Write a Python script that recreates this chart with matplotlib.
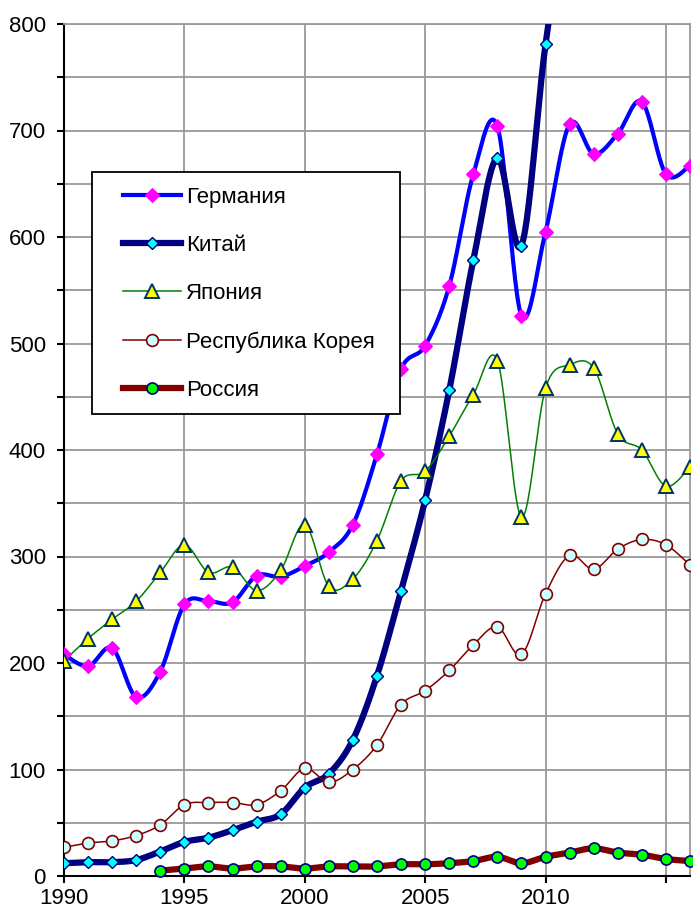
import numpy as np
import matplotlib
matplotlib.use('Agg')
import matplotlib.pyplot as plt
from matplotlib.lines import Line2D
from matplotlib.patches import Rectangle
from matplotlib.ticker import MultipleLocator

plt.rcParams['font.family'] = ['Liberation Sans', 'DejaVu Sans']

years = np.arange(1990, 2017)
years_ru = np.arange(1994, 2017)

germany = [208, 197, 214, 168, 192, 255, 258, 257, 282, 281, 291, 304, 330, 396, 476,
           498, 554, 659, 704, 526, 605, 706, 678, 697, 727, 659, 667]
china = [12, 13, 13, 15, 23, 32, 36, 43, 51, 58, 83, 96, 128, 188, 268,
         353, 456, 578, 674, 592, 781, 920, 1000, 1080, 1130, 1100, 1080]
japan = [202, 223, 241, 258, 285, 311, 285, 290, 268, 287, 330, 272, 279, 315, 371,
         380, 413, 452, 484, 337, 458, 480, 477, 415, 400, 366, 384]
korea = [27, 31, 33, 38, 48, 67, 69, 69, 67, 80, 101, 88, 100, 123, 161,
         174, 193, 217, 234, 208, 265, 301, 288, 307, 316, 311, 292]
russia = [5, 7, 9, 7, 9, 9, 7, 9, 9, 9, 11, 11, 12, 14, 18, 12, 18, 22, 26, 22, 20, 16, 14]

names = ['Германия', 'Китай', 'Япония', 'Республика Корея', 'Россия']


def smooth(x, y, n=24):
    # bezier smoothing like excel's "smoothed line"
    pts = np.column_stack([x, y]).astype(float)
    P = np.vstack([pts[0], pts, pts[-1]])
    out = []
    t = np.linspace(0, 1, n)[:, None]
    for i in range(1, len(P) - 2):
        p0, p1, p2, p3 = P[i - 1], P[i], P[i + 1], P[i + 2]
        c1 = p1 + (p2 - p0) / 6
        c2 = p2 - (p3 - p1) / 6
        seg = (1 - t) ** 3 * p1 + 3 * (1 - t) ** 2 * t * c1 + 3 * (1 - t) * t ** 2 * c2 + t ** 3 * p2
        out.append(seg if i == 1 else seg[1:])
    s = np.vstack(out)
    return s[:, 0], s[:, 1]


styles = [
    dict(color='#0000FF', lw=3.0, marker='D', ms=7.5, mfc='#FF00FF', mec='#FF00FF', mew=0.8),
    dict(color='#000080', lw=4.5, marker='D', ms=6.5, mfc='#00FFFF', mec='#000080', mew=1.0),
    dict(color='#008000', lw=1.1, marker='^', ms=10, mfc='#FFFF00', mec='#003366', mew=1.4),
    dict(color='#800000', lw=1.1, marker='o', ms=8.5, mfc='#CCFFFF', mec='#800000', mew=1.2),
    dict(color='#800000', lw=4.5, marker='o', ms=8.0, mfc='#00FF00', mec='#000080', mew=1.2),
]
series = [(years, germany), (years, china), (years, japan), (years, korea), (years_ru, russia)]

fig = plt.figure(figsize=(6.93, 9.10), dpi=100)
ax = fig.add_axes([64 / 693, 34 / 910, 626 / 693, 852 / 910])

handles = []
for (xs, ys), st, name in zip(series, styles, names):
    sx, sy = smooth(xs, ys)
    ax.plot(sx, sy, color=st['color'], lw=st['lw'], solid_capstyle='round', zorder=3)
    ax.plot(xs, ys, ls='none', marker=st['marker'], ms=st['ms'], mfc=st['mfc'],
            mec=st['mec'], mew=st['mew'], zorder=4, clip_on=False if name == 'Россия' else True)
    handles.append(Line2D([], [], label=name, **st))

ax.set_xlim(1990, 2016)
ax.set_ylim(0, 800)
ax.yaxis.set_major_locator(MultipleLocator(100))
ax.yaxis.set_minor_locator(MultipleLocator(50))
ax.set_xticks([1990, 1995, 2000, 2005, 2010, 2015])
ax.set_xticklabels(['1990', '1995', '2000', '2005', '2010', ''])
ax.grid(True, which='both', axis='y', color='#999999', lw=1.3)
ax.grid(True, which='major', axis='x', color='#999999', lw=1.3)
ax.set_axisbelow(True)

for sp in ['left', 'bottom']:
    ax.spines[sp].set_color('black')
    ax.spines[sp].set_linewidth(1.5)
for sp in ['top', 'right']:
    ax.spines[sp].set_color('#999999')
    ax.spines[sp].set_linewidth(1.3)

ax.tick_params(axis='both', which='both', direction='out', length=5, width=1.5, labelsize=16)
ax.tick_params(axis='y', pad=8)
ax.tick_params(axis='x', pad=4)

# legend box drawn separately so the padding can be set like in the original
box = Rectangle((92 / 693, 1 - 414 / 910), 308 / 693, 242 / 910, transform=fig.transFigure,
                facecolor='white', edgecolor='black', lw=1.3, zorder=5)
fig.add_artist(box)
leg = fig.legend(handles=handles, loc='upper left', bbox_to_anchor=(123 / 693, 1 - 187 / 910),
                 fontsize=16, frameon=False, numpoints=1, handlelength=2.6, handletextpad=0.25,
                 labelspacing=1.22, borderpad=0, borderaxespad=0)
leg.set_zorder(6)

fig.savefig('out.png', dpi=100)
